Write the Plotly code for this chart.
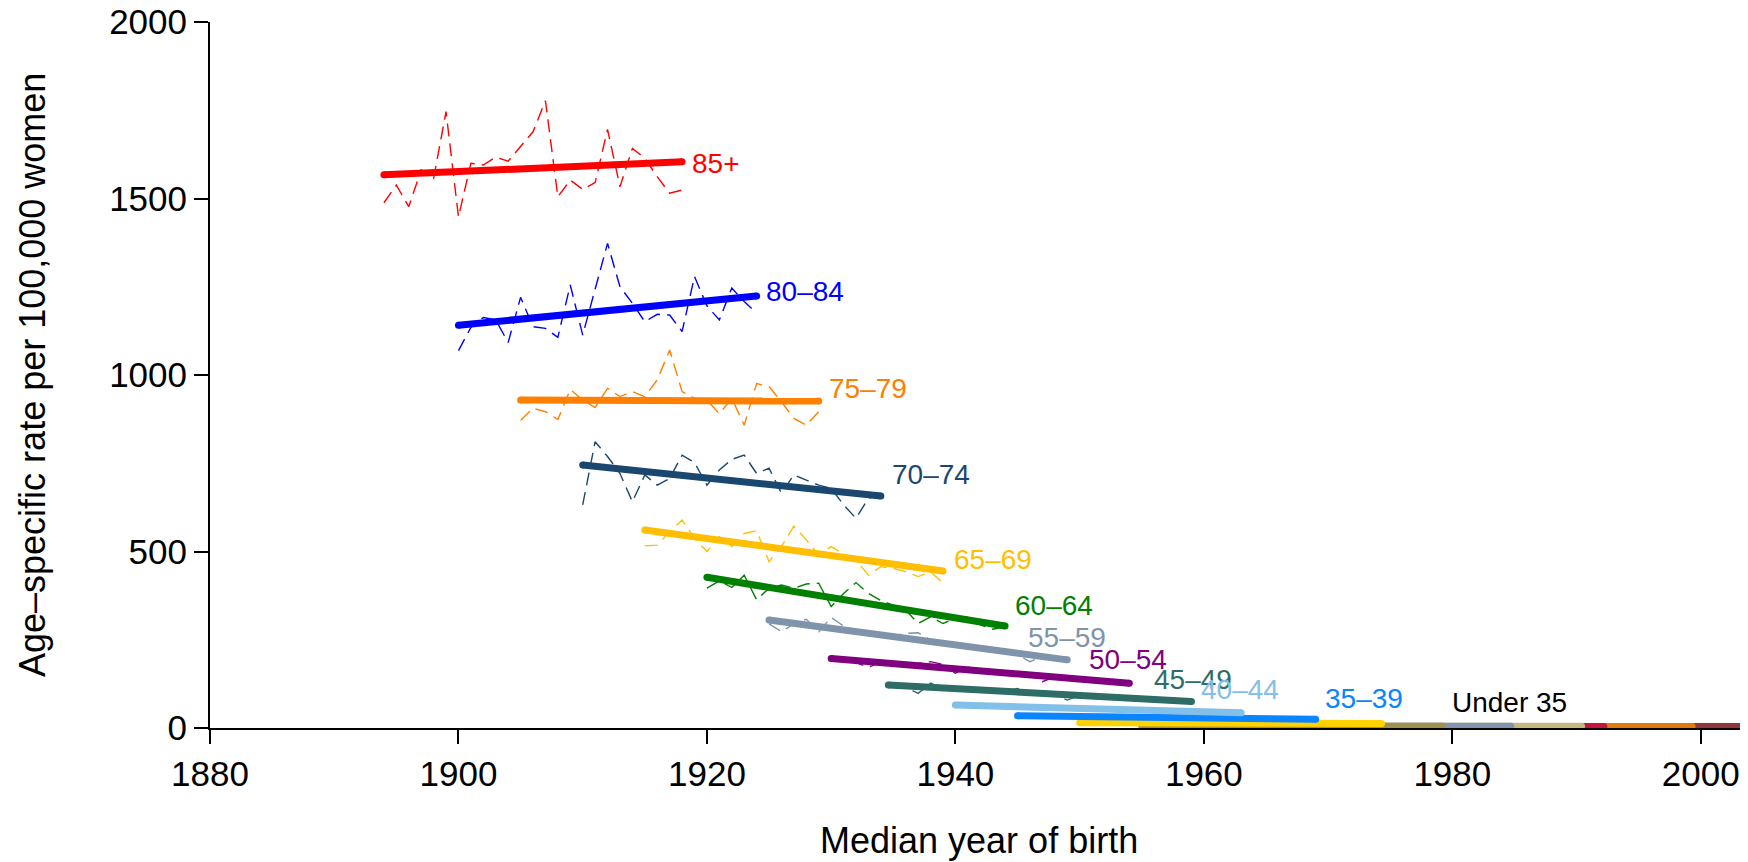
import plotly.graph_objects as go

# Age groups, oldest first
labels = ["85+", "80–84", "75–79", "70–74", "65–69", "60–64", "55–59",
          "50–54", "45–49", "40–44", "35–39"]
colors = ["#FF0000", "#0000FF", "#FF8000", "#1A476F", "#FFBF00", "#008000",
          "#7F93AB", "#800080", "#2D6D66", "#82BFE9", "#0A84FF"]

# fitted trend lines (start/end year, start/end rate)
fit_start = [1894, 1900, 1905, 1910, 1915, 1920, 1925, 1930, 1934.6, 1940, 1945]
fit_end = [1918, 1924, 1929, 1934, 1939, 1944, 1949, 1954, 1959, 1963, 1969]
fit_start_rate = [1567, 1141, 929, 745, 561, 427, 306, 197, 122, 65, 35]
fit_end_rate = [1604, 1224, 926, 657, 445, 289, 193, 127, 75, 43, 25]

# label positions
label_x = [1918.6, 1924.6, 1929.7, 1934.7, 1939.7, 1944.6, 1945.7, 1950.6, 1955.8, 1959.6, 1969.6]
label_y = [1600, 1236, 962, 717, 476, 348, 255, 193, 136, 108, 84]

# under 35 groups (fitted only, drawn near zero)
young_colors = ["#FFD200", "#A0904F", "#8394AC", "#C4BA7E", "#C8143A", "#E07B0A", "#90353B"]
young_start = [1950, 1955, 1960, 1965, 1970, 1975, 1980]
young_end = [1974.3, 1979.2, 1984.7, 1990.4, 1992.2, 1999.3, 2005]
young_start_rate = [15, 5, 5, 5, 4, 4, 4]
young_end_rate = [13, 5, 5, 5, 4, 4, 4]

# observed rates
obs_85_years = list(range(1894, 1919))
obs_85 = [1488, 1538, 1477, 1581, 1557, 1746, 1448, 1600, 1595, 1617, 1606, 1647, 1689,
          1777, 1505, 1552, 1526, 1545, 1696, 1533, 1642, 1614, 1562, 1515, 1524]
obs_80_years = list(range(1900, 1925))
obs_80 = [1069, 1135, 1163, 1156, 1092, 1220, 1137, 1132, 1107, 1255, 1113, 1246, 1373,
          1250, 1203, 1151, 1172, 1170, 1123, 1279, 1196, 1156, 1246, 1208, 1175]
obs_75_years = list(range(1905, 1930))
obs_75 = [871, 906, 896, 874, 959, 929, 908, 962, 939, 953, 939, 986, 1071,
          953, 934, 929, 890, 934, 858, 976, 967, 924, 877, 858, 896]
obs_70_years = list(range(1910, 1935))
obs_70 = [632, 811, 769, 721, 641, 717, 688, 707, 773, 752, 688, 731, 761,
          773, 721, 736, 665, 717, 702, 688, 679, 632, 594, 651, 660]
obs_65_years = list(range(1915, 1940))
obs_65 = [516, 518, 556, 589, 537, 500, 542, 514, 551, 559, 471, 514, 572,
          533, 490, 514, 493, 476, 433, 457, 452, 443, 429, 443, 410]
obs_60_years = list(range(1920, 1945))
obs_60 = [396, 417, 398, 433, 363, 396, 405, 396, 408, 410, 344, 381, 412,
          381, 361, 348, 334, 296, 315, 296, 311, 314, 292, 280, 287]
obs_55_years = list(range(1925, 1950))
obs_55 = [295, 273, 295, 308, 273, 313, 289, 276, 270, 266, 261, 268, 270,
          249, 238, 238, 229, 229, 216, 216, 207, 188, 202, 195, 193]
obs_50_years = list(range(1930, 1955))
obs_50 = [197, 190, 185, 172, 186, 184, 180, 183, 188, 180, 155, 172, 168,
          164, 160, 156, 150, 131, 145, 142, 140, 137, 133, 130, 128]
obs_45_years = list(range(1935, 1960))
obs_45 = [118, 115, 98, 127, 112, 110, 117, 108, 106, 104, 112, 100, 98,
          95, 79, 92, 90, 88, 86, 85, 83, 81, 79, 77, 75]
obs_40_years = list(range(1940, 1964))
obs_40 = [66, 63, 64, 62, 61, 60, 59, 58, 58, 57, 56, 55, 54,
          53, 52, 51, 50, 49, 48, 47, 46, 45, 44, 43]
obs_35_years = list(range(1945, 1970))
obs_35 = [36, 35, 34, 34, 33, 33, 32, 32, 31, 31, 30, 30, 30,
          29, 29, 28, 28, 28, 27, 27, 26, 26, 26, 25, 25]

obs_years = [obs_85_years, obs_80_years, obs_75_years, obs_70_years, obs_65_years,
             obs_60_years, obs_55_years, obs_50_years, obs_45_years, obs_40_years, obs_35_years]
obs_rates = [obs_85, obs_80, obs_75, obs_70, obs_65, obs_60, obs_55, obs_50, obs_45, obs_40, obs_35]

FONT = "Liberation Sans, Arial, Helvetica, sans-serif"
W = 7

fig = go.Figure()

# observed (thin dashed)
for yrs, vals, c in zip(obs_years, obs_rates, colors):
    fig.add_trace(go.Scatter(
        x=yrs, y=vals, mode="lines",
        line=dict(color=c, width=1.4, dash="13px,7px"),
        showlegend=False, hoverinfo="skip"))

# fitted lines, youngest first so older groups sit on top
for i in reversed(range(len(young_colors))):
    fig.add_trace(go.Scatter(
        x=[young_start[i], young_end[i]], y=[young_start_rate[i], young_end_rate[i]],
        mode="lines+markers", line=dict(color=young_colors[i], width=W),
        marker=dict(size=W, color=young_colors[i], line=dict(width=0)),
        showlegend=False, hoverinfo="skip"))

for i in reversed(range(len(labels))):
    fig.add_trace(go.Scatter(
        x=[fit_start[i], fit_end[i]], y=[fit_start_rate[i], fit_end_rate[i]],
        mode="lines+markers", line=dict(color=colors[i], width=W),
        marker=dict(size=W, color=colors[i], line=dict(width=0)),
        showlegend=False, hoverinfo="skip"))

for lab, x, y, c in zip(labels, label_x, label_y, colors):
    fig.add_annotation(x=x, y=y, text=lab, showarrow=False, xanchor="left",
                       yanchor="middle", font=dict(size=28, color=c, family=FONT))
fig.add_annotation(x=1979.8, y=71, text="Under 35", showarrow=False, xanchor="left",
                   yanchor="middle", font=dict(size=28, color="black", family=FONT))

# axis titles
fig.add_annotation(xref="paper", yref="paper", x=0.5, y=0, yanchor="middle",
                   yshift=-112, text="Median year of birth", showarrow=False,
                   font=dict(size=36, color="black", family=FONT))
fig.add_annotation(xref="paper", yref="paper", x=0, y=0.5, xanchor="center",
                   xshift=-178, textangle=-90, showarrow=False,
                   text="Age–specific rate per 100,000 women",
                   font=dict(size=36, color="black", family=FONT))

axis_style = dict(showgrid=False, zeroline=False, showline=True, linecolor="black",
                  linewidth=2, ticks="outside", ticklen=14, tickwidth=2, tickcolor="black",
                  automargin=False, ticklabeloverflow="allow",
                  tickfont=dict(size=35, color="black", family=FONT))

fig.update_xaxes(range=[1880, 2003.8], tickvals=list(range(1880, 2001, 20)), **axis_style)
fig.update_yaxes(range=[0, 2000], tickvals=list(range(0, 2001, 500)), **axis_style)

# page body adds an 8px offset, so the figure is 8px smaller than the window
fig.update_layout(
    width=1740, height=854,
    plot_bgcolor="white", paper_bgcolor="white",
    margin=dict(l=202, r=0, t=14, b=134),
    font=dict(family=FONT),
)

fig.write_html("out.html")
